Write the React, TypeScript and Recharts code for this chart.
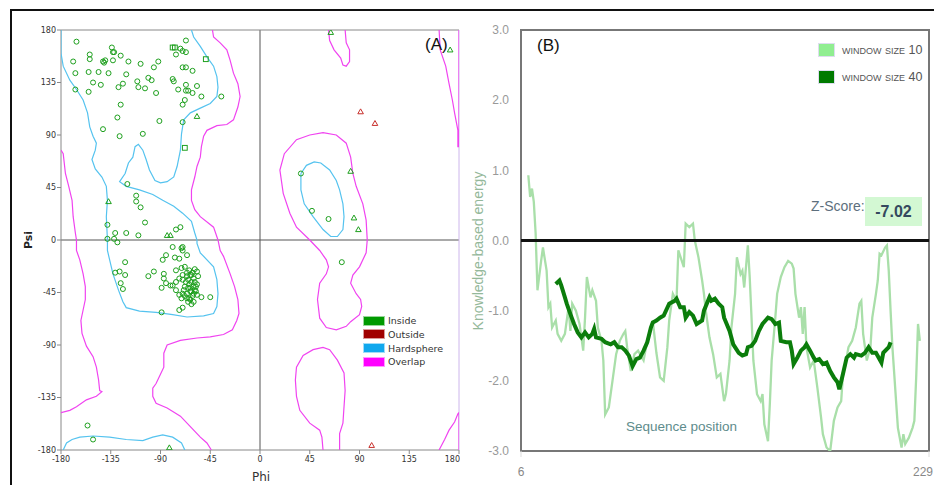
import React from 'react';
import {
  ScatterChart, Scatter, LineChart, Line, XAxis, YAxis, ReferenceLine, ReferenceArea,
} from 'recharts';

// ---- (A) Ramachandran plot ----
const angleTicks = [-180, -135, -90, -45, 0, 45, 90, 135, 180];

const insideCircles: number[][] = [
  [-166, 170], [-169, 153], [-167, 143], [-167, 129], [-154, 159], [-154, 155], [-155, 144], [-151, 135],
  [-155, 127], [-146, 144], [-144, 133], [-142, 153], [-140, 154], [-141, 152], [-137, 143], [-134, 165],
  [-133, 161], [-132, 161], [-133, 154], [-126, 158], [-119, 153], [-121, 142], [-124, 134], [-128, 131],
  [-126, 116], [-129, 105], [-142, 95], [-127, 89], [-111, 136], [-110, 131], [-104, 130], [-101, 139],
  [-98, 137], [-108, 151], [-96, 148], [-92, 153], [-94, 126], [-106, 91], [-91, 102], [-79, 138],
  [-78, 136], [-74, 129], [-72, 164], [-70, 162], [-67, 161], [-76, 159], [-67, 171], [-70, 148],
  [-67, 148], [-61, 145], [-67, 133], [-67, 128], [-65, 128], [-61, 126], [-57, 132], [-53, 123],
  [-68, 120], [-70, 116], [-70, 101], [-35, 123],
  [-120, 48], [-112, 38], [-112, 33], [-108, 28], [-104, 15], [-138, 13], [-138, 1], [-131, 6],
  [-132, 1], [-129, -2], [-121, 6], [-110, 4], [-76, 9], [-72, 11],
  [-122, -19], [-131, -28], [-127, -27], [-122, -30], [-126, -37], [-124, -42],
  [-79, -6], [-71, -7], [-70, -9], [-70, -6], [-85, -13], [-88, -17], [-77, -15], [-73, -16],
  [-66, -13], [-76, -26], [-71, -24], [-68, -23], [-64, -26], [-59, -25], [-57, -27], [-101, -31],
  [-96, -27], [-87, -29], [-87, -33], [-85, -37], [-81, -39], [-79, -39], [-76, -36], [-73, -33],
  [-70, -34], [-66, -31], [-63, -30], [-60, -33], [-56, -31], [-89, -41], [-76, -43], [-73, -47],
  [-70, -46], [-65, -41], [-62, -44], [-59, -43], [-57, -47], [-71, -50], [-66, -50], [-63, -51],
  [-60, -53], [-53, -49], [-45, -49], [-73, -60], [-70, -58], [-89, -62],
  [-66, -28], [-62, -36], [-64, -38], [-68, -40], [-60, -40], [-63, -44], [-66, -46], [-61, -48],
  [-65, -34], [-59, -36], [-67, -36], [-70, -30], [-62, -30], [-58, -44], [-64, -50], [-60, -46],
  [-68, -48], [-63, -41], [-57, -38], [-65, -53], [-62, -55], [-61, -28], [-69, -43], [-58, -40],
  [-156, -159], [-151, -171],
  [37, 57], [47, 25], [62, 18], [74, -19],
];
const insideTriangles: number[][] = [
  [-57, 106], [-137, 33], [-84, 4], [-81, 4], [64, 178], [172, 163], [82, 59], [85, 19], [89, 9], [-82, -178],
];
const insideSquares: number[][] = [[-79, 165], [-77, 165], [-49, 155], [-68, 79]];
const outsideTriangles: number[][] = [[91, 110], [104, 100], [101, -176]];

// hardsphere contours
const blueMain: number[][] = [
  [-62, 180], [-60, 174], [-54, 166], [-48, 157], [-42, 149], [-39, 140], [-38, 131], [-39, 123],
  [-45, 117], [-54, 113], [-63, 109], [-69, 103], [-71, 91], [-72, 77], [-75, 63], [-78, 54],
  [-84, 50], [-90, 49], [-95, 51], [-100, 60], [-103, 69], [-106, 77], [-110, 82], [-113, 80],
  [-115, 71], [-119, 66], [-122, 57], [-127, 50], [-121, 46], [-109, 43], [-97, 39], [-88, 34],
  [-78, 29], [-70, 23], [-62, 16], [-59, 6], [-57, 0], [-57, -3], [-54, -11], [-42, -23],
  [-39, -34], [-38, -46], [-39, -57], [-42, -63], [-51, -65], [-66, -66], [-79, -64], [-94, -62],
  [-109, -61], [-121, -58], [-124, -53], [-128, -43], [-133, -29], [-136, -17], [-138, -9],
  [-138, 0], [-139, 20], [-138, 34], [-139, 46], [-143, 54], [-149, 61], [-152, 69], [-149, 77],
  [-148, 83], [-151, 89], [-154, 97], [-156, 109], [-160, 120], [-166, 129], [-172, 137],
  [-178, 149], [-180, 160], [-180, 180],
];
const blueBottom: number[][] = [
  [-178, -180], [-175, -174], [-170, -171], [-163, -169], [-151, -168], [-136, -169], [-121, -171],
  [-106, -172], [-97, -169], [-88, -167], [-79, -169], [-71, -174], [-68, -180],
];
const blueLeftHanded: number[][] = [
  [37, 57], [42, 64], [49, 67], [55, 66], [63, 60], [69, 51], [72, 43], [75, 31], [76, 20],
  [75, 9], [70, 3], [64, 3], [57, 9], [48, 20], [40, 31], [37, 43], [37, 57],
];

// overlap contours
const pinkLeftEdge: number[][] = [
  [-180, 77], [-178, 74], [-176, 57], [-173, 46], [-170, 34], [-169, 20], [-167, 6], [-166, 0],
  [-166, -9], [-163, -17], [-160, -29], [-158, -40], [-158, -51], [-160, -60], [-162, -69],
  [-161, -80], [-157, -91], [-151, -100], [-148, -109], [-146, -120], [-145, -129], [-143, -130],
  [-148, -134], [-157, -137], [-166, -143], [-172, -146], [-180, -148],
];
const pinkMain: number[][] = [
  [-43, 180], [-42, 174], [-36, 169], [-30, 163], [-27, 154], [-24, 143], [-20, 134], [-18, 123],
  [-20, 114], [-24, 103], [-30, 99], [-39, 98], [-48, 94], [-51, 89], [-53, 80], [-54, 71],
  [-57, 63], [-59, 54], [-62, 43], [-62, 34], [-59, 26], [-54, 20], [-42, 11], [-38, 0],
  [-36, -9], [-33, -14], [-27, -29], [-23, -40], [-20, -51], [-19, -63], [-21, -69], [-25, -77],
  [-33, -81], [-45, -83], [-57, -84], [-72, -86], [-84, -90], [-87, -97], [-87, -109], [-91, -117],
  [-94, -123], [-97, -127], [-97, -134], [-94, -140], [-84, -144], [-72, -151], [-63, -160],
  [-54, -169], [-48, -174], [-44, -180],
];
const pinkTopTongue: number[][] = [
  [62, 180], [63, 171], [67, 163], [73, 156], [75, 150], [78, 149], [81, 153], [81, 163], [78, 169], [77, 180],
];
const pinkRightTop: number[][] = [
  [162, 180], [163, 163], [168, 149], [171, 134], [174, 120], [176, 109], [179, 94], [179, 80],
  [180, 80], [180, 180],
];
const pinkLeftHanded: number[][] = [
  [45, 0], [33, 11], [27, 23], [21, 40], [18, 60], [22, 74], [33, 86], [45, 90], [57, 92], [69, 90],
  [78, 83], [82, 71], [84, 57], [87, 46], [93, 31], [96, 17], [97, 0], [96, -11], [90, -23],
  [84, -30], [82, -37], [87, -46], [91, -51], [92, -57], [90, -64], [82, -70], [78, -74], [69, -77],
  [60, -75], [54, -67], [52, -51], [54, -37], [60, -29], [62, -23], [60, -17], [54, -9], [45, 0],
];
const pinkBottomLoop: number[][] = [
  [57, -180], [56, -169], [54, -163], [45, -157], [36, -146], [33, -134], [32, -120], [33, -109],
  [39, -99], [48, -94], [57, -92], [63, -94], [70, -103], [76, -114], [77, -129], [76, -143],
  [75, -157], [72, -166], [72, -180],
];
const pinkRightBottom: number[][] = [
  [162, -180], [167, -171], [171, -163], [176, -156], [179, -149], [180, -148], [180, -180],
];

// ---- (B) energy profile ----
const energyTicks = [-3, -2, -1, 0, 1, 2, 3];
const positionTicks = [6, 229];

const window10: number[][] = [
  [10, 0.93], [11, 0.62], [12, 0.74], [13, 0.55], [14, 0.1], [15, -0.71], [17, -0.29], [18, -0.1],
  [20, -0.43], [21, -0.95], [22, -0.9], [23, -1.24], [25, -1.14], [26, -1.33], [28, -1.43], [30, -1.33],
  [32, -0.95], [33, -1.29], [34, -0.9], [36, -1.0], [38, -1.19], [40, -1.57], [41, -1.1], [42, -0.52],
  [44, -0.81], [45, -0.71], [47, -0.86], [48, -1.24], [50, -1.43], [51, -1.71], [52, -2.48], [54, -2.38],
  [56, -2.0], [58, -1.62], [60, -1.43], [62, -1.33], [63, -1.29], [64, -1.52], [66, -1.86], [68, -1.62],
  [70, -1.57], [73, -1.71], [75, -1.43], [78, -1.14], [80, -1.6], [82, -1.95], [84, -2.0], [86, -1.52],
  [87, -1.14], [89, -0.76], [91, -0.86], [92, -0.14], [95, -0.38], [96, 0.24], [98, 0.19], [100, 0.24],
  [101, 0.0], [103, -0.24], [105, -0.57], [106, -0.76], [107, -1.0], [109, -1.38], [111, -1.62],
  [113, -1.95], [115, -1.9], [117, -2.29], [118, -2.19], [120, -1.71], [121, -1.24], [123, -0.76],
  [124, -0.24], [126, -0.48], [127, -0.43], [128, -0.67], [130, -0.07], [131, -0.52], [132, -1.1],
  [133, -1.71], [135, -2.19], [137, -2.29], [138, -2.19], [139, -2.62], [141, -2.86], [142, -2.33],
  [143, -1.71], [145, -1.1], [146, -0.76], [148, -0.52], [150, -0.38], [152, -0.29], [154, -0.33],
  [155, -0.4], [156, -0.76], [158, -1.1], [159, -0.95], [160, -1.33], [161, -0.95], [162, -1.52],
  [164, -1.81], [166, -1.71], [168, -2.1], [170, -2.52], [171, -2.76], [173, -2.95], [175, -3.0],
  [177, -2.57], [179, -2.38], [181, -2.29], [182, -1.9], [183, -1.81], [185, -1.52], [187, -1.43],
  [189, -1.24], [191, -0.9], [192, -0.86], [193, -1.33], [195, -1.71], [197, -1.52], [198, -1.1],
  [200, -0.76], [201, -0.57], [202, -0.19], [203, -0.21], [205, -0.1], [206, -0.07], [207, -0.43],
  [208, -1.0], [209, -1.52], [210, -1.9], [211, -2.29], [212, -2.67], [214, -2.95], [215, -2.76],
  [216, -2.9], [218, -2.81], [220, -2.67], [221, -2.57], [222, -1.95], [223, -1.19], [224, -1.43],
];
const window40: number[][] = [
  [25, -0.62], [27, -0.57], [28, -0.64], [30, -0.81], [31, -0.9], [33, -1.05], [35, -1.19], [37, -1.31],
  [39, -1.38], [41, -1.31], [43, -1.38], [45, -1.33], [46, -1.26], [47, -1.38], [50, -1.4], [52, -1.45],
  [55, -1.48], [57, -1.45], [59, -1.52], [61, -1.52], [63, -1.57], [65, -1.64], [67, -1.79], [69, -1.69],
  [71, -1.67], [73, -1.57], [75, -1.45], [77, -1.24], [78, -1.17], [80, -1.14], [82, -1.1], [84, -1.07],
  [87, -0.9], [90, -0.86], [91, -0.83], [93, -0.95], [95, -0.95], [96, -1.1], [98, -1.02], [100, -1.07],
  [102, -1.19], [105, -1.14], [106, -1.0], [109, -0.81], [110, -0.86], [112, -0.83], [114, -0.9],
  [116, -0.95], [117, -1.1], [120, -1.29], [122, -1.48], [125, -1.6], [127, -1.64], [129, -1.62],
  [130, -1.52], [132, -1.5], [134, -1.43], [136, -1.29], [138, -1.19], [141, -1.1], [143, -1.12],
  [145, -1.19], [147, -1.17], [148, -1.43], [151, -1.45], [153, -1.45], [154, -1.57], [155, -1.76],
  [157, -1.67], [159, -1.57], [161, -1.52], [162, -1.48], [164, -1.57], [166, -1.67], [167, -1.71],
  [169, -1.69], [171, -1.76], [173, -1.74], [175, -1.86], [177, -1.95], [179, -2.02], [180, -2.12],
  [182, -1.9], [184, -1.67], [186, -1.62], [188, -1.67], [189, -1.62], [192, -1.64], [194, -1.6],
  [196, -1.52], [198, -1.6], [200, -1.6], [203, -1.74], [204, -1.6], [207, -1.52], [208, -1.45],
];
const zScore = '-7.02';

const toAngles = (arr: number[][]) => arr.map(([phi, psi]) => ({ phi, psi }));
const toProfile = (arr: number[][]) => arr.map(([pos, e]) => ({ pos, e }));

const GREEN = '#1ea01e';
const BLUE = '#55c3ef';
const PINK = '#f044f0';

const tahoma = '"DejaVu Sans", Verdana, sans-serif';
const arial = '"Liberation Sans", Arial, sans-serif';

const noDot = () => <g />;
const circle = (p: any) => <circle cx={p.cx} cy={p.cy} r={2.5} fill="none" stroke={GREEN} strokeWidth={1} />;
const square = (p: any) => <rect x={p.cx - 2.4} y={p.cy - 2.4} width={4.8} height={4.8} fill="none" stroke={GREEN} strokeWidth={1} />;
const triangle = (color: string) => (p: any) => (
  <path d={`M${p.cx},${p.cy - 2.8}L${p.cx + 2.8},${p.cy + 2.1}L${p.cx - 2.8},${p.cy + 2.1}Z`} fill="none" stroke={color} strokeWidth={1} />
);

// last tick label is pulled inside so it is not clipped at the panel edge
const angleTick = (p: any) => {
  const last = p.payload.value === 180;
  return (
    <text x={last ? p.x + 1 : p.x} y={p.y} dy="0.71em" textAnchor={last ? 'end' : 'middle'}
      fontSize={8} fill="#333" fontFamily={tahoma}>{p.payload.value}</text>
  );
};
const positionTick = (p: any) => {
  const last = p.payload.value === 229;
  return (
    <text x={last ? p.x + 4 : p.x} y={p.y} dy="0.71em" textAnchor={last ? 'end' : 'middle'}
      fontSize={12} fill="#888" fontFamily={arial}>{p.payload.value}</text>
  );
};

const contours = [
  { key: 'b1', data: blueMain, color: BLUE },
  { key: 'b2', data: blueBottom, color: BLUE },
  { key: 'b3', data: blueLeftHanded, color: BLUE },
  { key: 'p1', data: pinkLeftEdge, color: PINK },
  { key: 'p2', data: pinkMain, color: PINK },
  { key: 'p3', data: pinkTopTongue, color: PINK },
  { key: 'p4', data: pinkRightTop, color: PINK },
  { key: 'p5', data: pinkLeftHanded, color: PINK },
  { key: 'p6', data: pinkBottomLoop, color: PINK },
  { key: 'p7', data: pinkRightBottom, color: PINK },
];

const legendA = [
  { label: 'Inside', color: '#009a00' },
  { label: 'Outside', color: '#a00000' },
  { label: 'Hardsphere', color: '#10a8ee' },
  { label: 'Overlap', color: '#ff00ff' },
];

function RamachandranPanel() {
  return (
    <div style={{ position: 'absolute', left: 0, top: 0, width: 460, height: 485, overflow: 'hidden' }}>
      <ScatterChart width={470} height={485} margin={{ top: 30, right: 11, bottom: 10, left: 21 }}>
        <XAxis
          type="number" dataKey="phi" domain={[-180, 180]} ticks={angleTicks} allowDataOverflow
          height={25} tickSize={4} tickMargin={2} stroke="#888" tick={angleTick} interval={0}
        />
        <XAxis
          xAxisId="top" orientation="top" mirror type="number" dataKey="phi" domain={[-180, 180]}
          ticks={angleTicks} tick={false} tickSize={3} stroke="#888"
        />
        <YAxis
          type="number" dataKey="psi" domain={[-180, 180]} ticks={angleTicks} allowDataOverflow
          width={40} tickSize={4} tickMargin={1} stroke="#888"
          tick={{ fontSize: 8, fill: '#333', fontFamily: tahoma }} interval={0}
        />
        <YAxis
          yAxisId="right" orientation="right" mirror type="number" dataKey="psi" domain={[-180, 180]}
          ticks={angleTicks} tick={false} tickSize={4} stroke="#9a8fb0"
          axisLine={{ stroke: '#cdb6ec' }}
        />
        <ReferenceLine x={0} stroke="#555" />
        <ReferenceLine y={0} stroke="#555" />
        {contours.map((c) => (
          <Scatter
            key={c.key} data={toAngles(c.data)} shape={noDot} line={{ stroke: c.color, strokeWidth: 1.2 }}
            isAnimationActive={false}
          />
        ))}
        <Scatter data={toAngles(insideCircles)} shape={circle} isAnimationActive={false} />
        <Scatter data={toAngles(insideSquares)} shape={square} isAnimationActive={false} />
        <Scatter data={toAngles(insideTriangles)} shape={triangle(GREEN)} isAnimationActive={false} />
        <Scatter data={toAngles(outsideTriangles)} shape={triangle('#c8302c')} isAnimationActive={false} />
      </ScatterChart>

      <div style={{ position: 'absolute', left: 425, top: 35, fontSize: 17, fontFamily: arial, color: '#111' }}>(A)</div>
      <div style={{
        position: 'absolute', left: 28, top: 240, transform: 'translate(-50%, -50%) rotate(-90deg)',
        fontSize: 11, fontFamily: tahoma, color: '#222', fontWeight: 600,
      }}>Psi</div>
      <div style={{ position: 'absolute', left: 252, top: 470, fontSize: 12, fontFamily: tahoma, color: '#333' }}>Phi</div>

      {legendA.map((it, i) => (
        <div key={it.label} style={{ position: 'absolute', left: 363, top: 315 + i * 13.8, height: 11, display: 'flex', alignItems: 'center', background: '#fff' }}>
          <div style={{ width: 22, height: 10, background: it.color, border: '1px solid rgba(255,255,255,0.6)', boxSizing: 'border-box' }} />
          <span style={{ marginLeft: 3, fontSize: 9.5, fontFamily: tahoma, color: '#333' }}>{it.label}</span>
        </div>
      ))}
    </div>
  );
}

function EnergyPanel() {
  return (
    <div style={{ position: 'absolute', left: 460, top: 0, width: 474, height: 485 }}>
      <LineChart width={474} height={485} margin={{ top: 30, right: 5, bottom: 9, left: 11 }}>
        <XAxis
          type="number" dataKey="pos" domain={[6, 229]} ticks={positionTicks} allowDataOverflow
          height={25} tickSize={6} tickMargin={10} axisLine={false} tickLine={{ stroke: '#ddd' }}
          tick={positionTick} interval={0}
        />
        <YAxis
          type="number" domain={[-3, 3]} ticks={energyTicks} allowDataOverflow width={50}
          tickSize={6} tickMargin={6} axisLine={false} tickLine={false}
          tickFormatter={(v: number) => v.toFixed(1)}
          tick={{ fontSize: 12, fill: '#999', fontFamily: arial }} interval={0}
        />
        <ReferenceArea x1={6} x2={229} y1={-3} y2={3} fill="none" stroke="#777" strokeWidth={2} />
        <Line
          data={toProfile(window10)} dataKey="e" type="linear" stroke="#a9dfa9" strokeWidth={2.3}
          dot={false} isAnimationActive={false}
        />
        <Line
          data={toProfile(window40)} dataKey="e" type="linear" stroke="#0b7d0b" strokeWidth={4}
          dot={false} isAnimationActive={false}
        />
        <ReferenceLine y={0} stroke="#111" strokeWidth={3} />
      </LineChart>

      <div style={{ position: 'absolute', left: 77, top: 36, fontSize: 17, fontFamily: arial, color: '#111' }}>(B)</div>
      <div style={{
        position: 'absolute', left: 18, top: 251, transform: 'translate(-50%, -50%) rotate(-90deg)',
        fontSize: 14, fontFamily: arial, color: '#94b89a', whiteSpace: 'nowrap',
      }}>Knowledge-based energy</div>
      <div style={{ position: 'absolute', left: 166, top: 419, fontSize: 13.5, fontFamily: arial, color: '#5e8c8c' }}>Sequence position</div>

      {[{ label: 'window size 10', color: '#90ee90' }, { label: 'window size 40', color: '#007a00' }].map((it, i) => (
        <div key={it.label} style={{ position: 'absolute', left: 358, top: 43 + i * 27, display: 'flex', alignItems: 'center', height: 14 }}>
          <div style={{ width: 17, height: 14, background: it.color, border: '1px solid #dde', boxSizing: 'border-box' }} />
          <span style={{ marginLeft: 7, fontSize: 12.5, fontFamily: arial, color: '#555', fontVariant: 'small-caps' }}>{it.label}</span>
        </div>
      ))}

      <div style={{ position: 'absolute', left: 351, top: 198, fontSize: 14, fontFamily: arial, color: '#5d6f7d' }}>Z-Score:</div>
      <div style={{
        position: 'absolute', left: 405, top: 197, width: 57, height: 29, background: '#d3f8d3',
        display: 'flex', alignItems: 'center', justifyContent: 'center',
        fontSize: 16, fontWeight: 700, fontFamily: arial, color: '#34495e',
      }}>{zScore}</div>
    </div>
  );
}

export default function App() {
  return (
    <div style={{ position: 'absolute', left: 0, top: 0, width: 934, height: 485, background: '#fff', overflow: 'hidden' }}>
      <RamachandranPanel />
      <EnergyPanel />
      <div style={{ position: 'absolute', left: 10, top: 9, width: 924, height: 2, background: '#111' }} />
      <div style={{ position: 'absolute', left: 10, top: 9, width: 2, height: 476, background: '#111' }} />
    </div>
  );
}
